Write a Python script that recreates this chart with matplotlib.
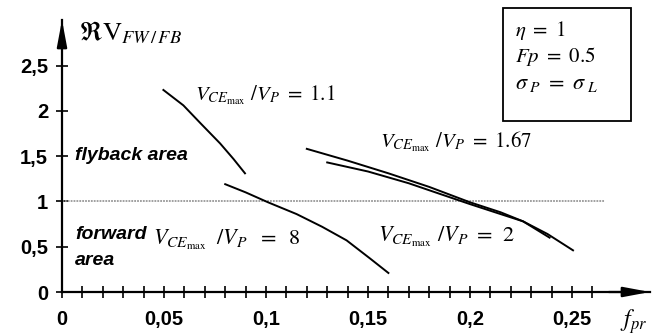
import matplotlib
matplotlib.use("Agg")
import matplotlib.pyplot as plt
from matplotlib.patches import Rectangle

plt.rcParams['mathtext.fontset'] = 'stix'
plt.rcParams['font.family'] = ['Liberation Sans', 'DejaVu Sans']

# curve data: f_pr vs. ratio
f_11 = [0.0497, 0.0595, 0.0680, 0.0775, 0.0840, 0.0897]
r_11 = [2.23, 2.06, 1.86, 1.64, 1.47, 1.31]

f_8 = [0.080, 0.090, 0.101, 0.115, 0.1275, 0.1395, 0.151, 0.160]
r_8 = [1.19, 1.10, 0.99, 0.86, 0.72, 0.57, 0.37, 0.21]

f_167 = [0.120, 0.140, 0.160, 0.180, 0.200, 0.215, 0.226, 0.238, 0.2505]
r_167 = [1.58, 1.45, 1.31, 1.16, 0.99, 0.88, 0.78, 0.64, 0.46]

f_2 = [0.130, 0.150, 0.170, 0.183, 0.200, 0.215, 0.226, 0.239]
r_2 = [1.43, 1.33, 1.20, 1.10, 0.97, 0.86, 0.78, 0.60]

ref_level = 1.0
ref_end = 0.266

xticks = [0, 0.05, 0.1, 0.15, 0.2, 0.25]
xtick_labels = ['0', '0,05', '0,1', '0,15', '0,2', '0,25']
xminor = [i / 100 for i in range(0, 27)]
yticks = [0, 0.5, 1, 1.5, 2, 2.5]
ytick_labels = ['0', '0,5', '1', '1,5', '2', '2,5']

fig = plt.figure(figsize=(6.58, 3.35), dpi=100)
ax = fig.add_axes([62 / 658, 43 / 335, 588 / 658, 272 / 335])
ax.set_xlim(0, 588 / 2040)
ax.set_ylim(0, 272 / 90.6)

for s in ['top', 'right']:
    ax.spines[s].set_visible(False)
for s in ['left', 'bottom']:
    ax.spines[s].set_linewidth(1.6)

# arrow heads at the ends of the axes
ax.annotate('', xy=(1.0, 0), xytext=(0.93, 0), xycoords='axes fraction',
            arrowprops=dict(arrowstyle='-|>,head_length=1.6,head_width=0.3',
                            color='black', lw=1.6, shrinkA=0, shrinkB=0),
            annotation_clip=False)
ax.annotate('', xy=(0, 1.0), xytext=(0, 0.9), xycoords='axes fraction',
            arrowprops=dict(arrowstyle='-|>,head_length=1.6,head_width=0.3',
                            color='black', lw=1.6, shrinkA=0, shrinkB=0),
            annotation_clip=False)

ax.set_xticks(xticks)
ax.set_xticklabels(xtick_labels, fontsize=14.5, fontweight='bold')
ax.set_xticks(xminor, minor=True)
ax.set_yticks(yticks)
ax.set_yticklabels(ytick_labels, fontsize=14.5, fontweight='bold')
ax.tick_params(axis='both', which='both', direction='inout', length=8, width=1.2)
ax.tick_params(axis='x', which='major', pad=9)
ax.tick_params(axis='y', which='major', pad=6)

ax.plot([0, ref_end], [ref_level, ref_level], color='0.6', lw=1.3,
        linestyle=(0, (1, 0.6)))

for fx, ry in [(f_11, r_11), (f_8, r_8), (f_167, r_167), (f_2, r_2)]:
    ax.plot(fx, ry, color='black', lw=1.4)

ax.text(0.065, 2.17, r'$V_{CE_{\mathrm{max}}}\ /V_P\ =\ 1.1$',
        fontsize=15, va='center', ha='left')
ax.text(0.156, 1.66, r'$V_{CE_{\mathrm{max}}}\ /V_P\ =\ 1.67$',
        fontsize=15, va='center', ha='left')
ax.text(0.0446, 0.57, r'$V_{CE_{\mathrm{max}}}\ \;/V_P\ \;=\ \;8$',
        fontsize=16, va='center', ha='left')
ax.text(0.155, 0.61, r'$V_{CE_{\mathrm{max}}}\ /V_P\ =\ \,2$',
        fontsize=16, va='center', ha='left')

ax.text(0.0064, 1.51, 'flyback area', fontsize=14, fontweight='bold',
        fontstyle='italic', va='center', ha='left')
ax.text(0.0064, 0.63, 'forward', fontsize=14, fontweight='bold',
        fontstyle='italic', va='center', ha='left')
ax.text(0.0064, 0.353, 'area', fontsize=14, fontweight='bold',
        fontstyle='italic', va='center', ha='left')

ax.text(0.0085, 2.86, r'$\Re\mathrm{V}_{FW\,/\,FB}$', fontsize=19,
        va='center', ha='left')
ax.text(0.2735, -0.33, r'$f_{pr}$', fontsize=17, va='center', ha='left')

# parameter box
fig.add_artist(Rectangle((503 / 658, (335 - 121) / 335), 128 / 658, 113 / 335,
                         transform=fig.transFigure, fill=False,
                         edgecolor='black', lw=1.3))
fig.text(515 / 658, 1 - 31 / 335, r'$\eta\ =\ 1$', fontsize=15, va='center')
fig.text(515 / 658, 1 - 57 / 335, r'$Fp\ =\ 0.5$', fontsize=15, va='center')
fig.text(515 / 658, 1 - 84 / 335, r'$\sigma_{\ P}\ =\ \sigma_{\ L}$',
         fontsize=16, va='center')

fig.savefig('out.png', dpi=100)
